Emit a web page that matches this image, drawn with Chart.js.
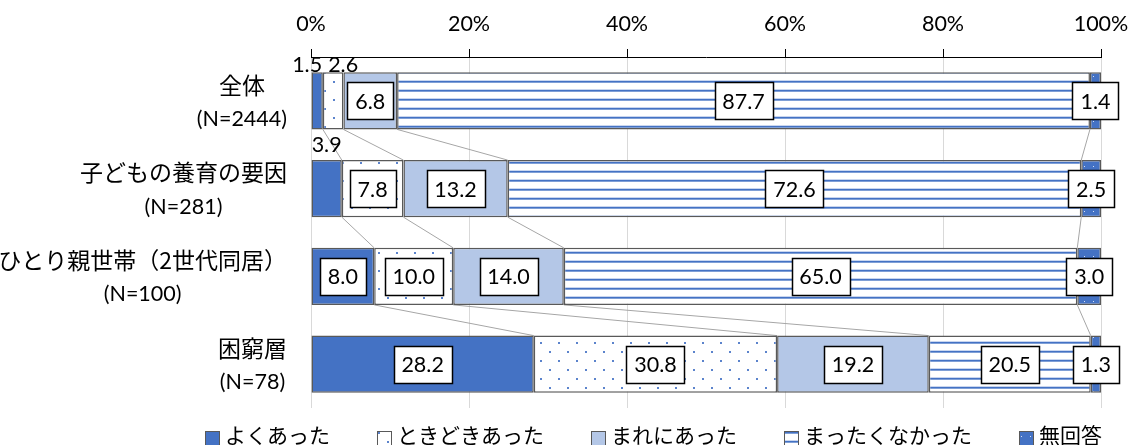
<!DOCTYPE html>
<html lang="ja">
<head>
    <meta charset="UTF-8">
    <title>経験の頻度</title>
    <script src="https://cdn.jsdelivr.net/npm/chart.js@4.4.0/dist/chart.umd.min.js"></script>
    <style>
        html, body {
            margin: 0;
            padding: 0;
            background-color: #fff;
        }
        .chart-container {
            position: relative;
            width: 1132px;
            height: 445px;
        }
    </style>
</head>
<body>
    <div class="chart-container">
        <canvas id="myChart"></canvas>
    </div>

    <script>
        const categories = [
            ['全体', '(N=2444)'],
            ['子どもの養育の要因', '(N=281)'],
            ['ひとり親世帯（2世代同居）', '(N=100)'],
            ['困窮層', '(N=78)']
        ];
        const seriesNames = ['よくあった', 'ときどきあった', 'まれにあった', 'まったくなかった', '無回答'];
        const often = [1.5, 3.9, 8.0, 28.2];
        const sometimes = [2.6, 7.8, 10.0, 30.8];
        const rarely = [6.8, 13.2, 14.0, 19.2];
        const never = [87.7, 72.6, 65.0, 20.5];
        const noAnswer = [1.4, 2.5, 3.0, 1.3];
        const xTicks = [0, 20, 40, 60, 80, 100];

        const NUM_FONT = 'Lato, "Noto Sans CJK JP", sans-serif';
        const JP_FONT = '"Noto Sans CJK JP", sans-serif';
        const NUM_SIZE = 21.5;
        const BLUE = '#4472C4';

        // 塗りつぶしパターン
        function makePattern(w, h, bg, draw) {
            const c = document.createElement('canvas');
            c.width = w;
            c.height = h;
            const g = c.getContext('2d');
            g.fillStyle = bg;
            g.fillRect(0, 0, w, h);
            draw(g);
            return g.createPattern(c, 'repeat');
        }
        const dotPattern = makePattern(18, 18, '#fff', g => {
            g.fillStyle = '#5b83cc';
            g.fillRect(0, 0, 2, 2);
            g.fillRect(9, 9, 2, 2);
        });
        const stripePattern = makePattern(9, 9, '#fff', g => {
            g.fillStyle = BLUE;
            g.fillRect(0, 0, 9, 1);
            g.fillStyle = '#7f9fd6';
            g.fillRect(0, 1, 9, 1);
            g.fillStyle = '#c9d6ef';
            g.fillRect(0, 8, 9, 1);
        });
        const noAnswerPattern = makePattern(9, 9, BLUE, g => {
            g.fillStyle = '#d6e0f3';
            g.fillRect(4, 4, 1, 1);
        });

        const fills = [BLUE, dotPattern, '#B4C7E7', stripePattern, noAnswerPattern];
        const seriesData = [often, sometimes, rarely, never, noAnswer];

        // 系列線（棒と棒をつなぐ線）
        const seriesLines = {
            id: 'seriesLines',
            beforeDatasetsDraw(chart) {
                const ctx = chart.ctx;
                const xs = chart.scales.x;
                const n = chart.data.labels.length;
                const ds = chart.data.datasets;
                ctx.save();
                ctx.strokeStyle = '#a6a6a6';
                ctx.lineWidth = 1;
                for (let i = 0; i < n - 1; i++) {
                    const barA = chart.getDatasetMeta(0).data[i];
                    const barB = chart.getDatasetMeta(0).data[i + 1];
                    const yA = barA.y + barA.height / 2;
                    const yB = barB.y - barB.height / 2;
                    let cumA = 0, cumB = 0;
                    for (let s = 0; s < ds.length - 1; s++) {
                        cumA += ds[s].data[i];
                        cumB += ds[s].data[i + 1];
                        ctx.beginPath();
                        ctx.moveTo(xs.getPixelForValue(cumA), yA);
                        ctx.lineTo(xs.getPixelForValue(cumB), yB);
                        ctx.stroke();
                    }
                }
                ctx.restore();
            }
        };

        // データラベル
        const valueLabels = {
            id: 'valueLabels',
            afterDatasetsDraw(chart) {
                const ctx = chart.ctx;
                const last = chart.data.datasets.length - 1;
                const above = {};
                ctx.save();
                ctx.font = NUM_SIZE + 'px ' + NUM_FONT;
                ctx.textAlign = 'center';
                ctx.textBaseline = 'middle';
                chart.data.datasets.forEach((ds, di) => {
                    chart.getDatasetMeta(di).data.forEach((bar, i) => {
                        const p = bar.getProps(['x', 'y', 'base', 'height'], true);
                        const txt = ds.data[i].toFixed(1);
                        const tw = ctx.measureText(txt).width;
                        const bw = Math.round(tw + 16), bh = 37;
                        const cx = (p.x + p.base) / 2;
                        if (di !== last && Math.abs(p.x - p.base) < bw) {
                            (above[i] = above[i] || []).push({ txt, cx, w: tw, top: p.y - p.height / 2 });
                            return;
                        }
                        const left = Math.round(cx - bw / 2) + 0.5;
                        const top = Math.round(p.y - bh / 2) + 0.5;
                        ctx.fillStyle = '#fff';
                        ctx.fillRect(left, top, bw, bh);
                        ctx.strokeStyle = '#000';
                        ctx.lineWidth = 1.5;
                        ctx.strokeRect(left, top, bw, bh);
                        ctx.fillStyle = '#000';
                        ctx.fillText(txt, cx, p.y + 1);
                    });
                });
                Object.values(above).forEach(list => {
                    list.sort((a, b) => a.cx - b.cx);
                    for (let k = 1; k < list.length; k++) {
                        const a = list[k - 1], b = list[k];
                        const need = (a.w + b.w) / 2 + 6;
                        if (b.cx - a.cx < need) {
                            const mid = (a.cx + b.cx) / 2;
                            a.cx = mid - need / 2;
                            b.cx = mid + need / 2;
                        }
                    }
                    list.forEach(l => {
                        const cy = Math.max(l.top - 15, chart.chartArea.top + 8);
                        ctx.fillStyle = '#000';
                        ctx.fillText(l.txt, l.cx, cy);
                    });
                });
                ctx.restore();
            }
        };

        // カテゴリラベルと凡例
        const labelsAndLegend = {
            id: 'labelsAndLegend',
            afterDraw(chart) {
                const ctx = chart.ctx;
                const ys = chart.scales.y;
                const area = chart.chartArea;
                ctx.save();
                ctx.fillStyle = '#000';
                ctx.textAlign = 'center';
                ctx.textBaseline = 'middle';
                categories.forEach((lines, i) => {
                    const cy = ys.getPixelForValue(i);
                    ctx.font = '23px ' + JP_FONT;
                    const w1 = ctx.measureText(lines[0]).width;
                    ctx.font = NUM_SIZE + 'px ' + NUM_FONT;
                    const w2 = ctx.measureText(lines[1]).width;
                    const cx = area.left - 24 - Math.max(w1, w2) / 2;
                    ctx.font = '23px ' + JP_FONT;
                    ctx.fillText(lines[0], cx, cy - 16);
                    ctx.font = NUM_SIZE + 'px ' + NUM_FONT;
                    ctx.fillText(lines[1], cx, cy + 18);
                });

                // 凡例
                ctx.font = '21px ' + JP_FONT;
                ctx.textAlign = 'left';
                const box = 14, gapText = 6, gapItem = 47;
                const widths = seriesNames.map(s => ctx.measureText(s).width);
                const total = widths.reduce((a, w) => a + box + gapText + w, 0) + gapItem * (seriesNames.length - 1);
                let x = Math.round(area.right + 1 - total);
                const ly = 435;
                seriesNames.forEach((name, k) => {
                    ctx.fillStyle = fills[k];
                    ctx.fillRect(x + 0.5, 431.5, box, box);
                    ctx.strokeStyle = '#595959';
                    ctx.lineWidth = 1;
                    ctx.strokeRect(x + 0.5, 431.5, box, box);
                    ctx.fillStyle = '#000';
                    ctx.fillText(name, x + box + gapText, ly);
                    x += box + gapText + widths[k] + gapItem;
                });
                ctx.restore();
            }
        };

        const ctx = document.getElementById('myChart').getContext('2d');
        const chart = new Chart(ctx, {
            type: 'bar',
            data: {
                labels: categories.map(c => c.join(' ')),
                datasets: seriesNames.map((name, k) => ({
                    label: name,
                    data: seriesData[k],
                    backgroundColor: fills[k],
                    borderColor: '#595959',
                    borderWidth: 1.5,
                    borderSkipped: false,
                    barPercentage: 0.65,
                    categoryPercentage: 1
                }))
            },
            options: {
                indexAxis: 'y',
                responsive: true,
                maintainAspectRatio: false,
                animation: false,
                layout: {
                    padding: { left: 311, right: 31, top: 0, bottom: 37 }
                },
                plugins: {
                    legend: { display: false },
                    tooltip: { enabled: false }
                },
                scales: {
                    x: {
                        position: 'top',
                        stacked: true,
                        min: 0,
                        max: 100,
                        afterBuildTicks: s => { s.ticks = xTicks.map(v => ({ value: v })); },
                        afterFit: s => {
                            s.height = 57;
                            s.paddingLeft = 0;
                            s.paddingRight = 0;
                        },
                        ticks: {
                            callback: v => v + '%',
                            font: { family: NUM_FONT, size: NUM_SIZE },
                            color: '#000',
                            padding: 12,
                            maxRotation: 0
                        },
                        grid: {
                            color: '#d9d9d9',
                            tickColor: '#000',
                            tickLength: 8,
                            lineWidth: 1
                        },
                        border: { color: '#000', width: 1 }
                    },
                    y: {
                        stacked: true,
                        display: false
                    }
                }
            },
            plugins: [seriesLines, valueLabels, labelsAndLegend]
        });
    </script>
</body>
</html>
